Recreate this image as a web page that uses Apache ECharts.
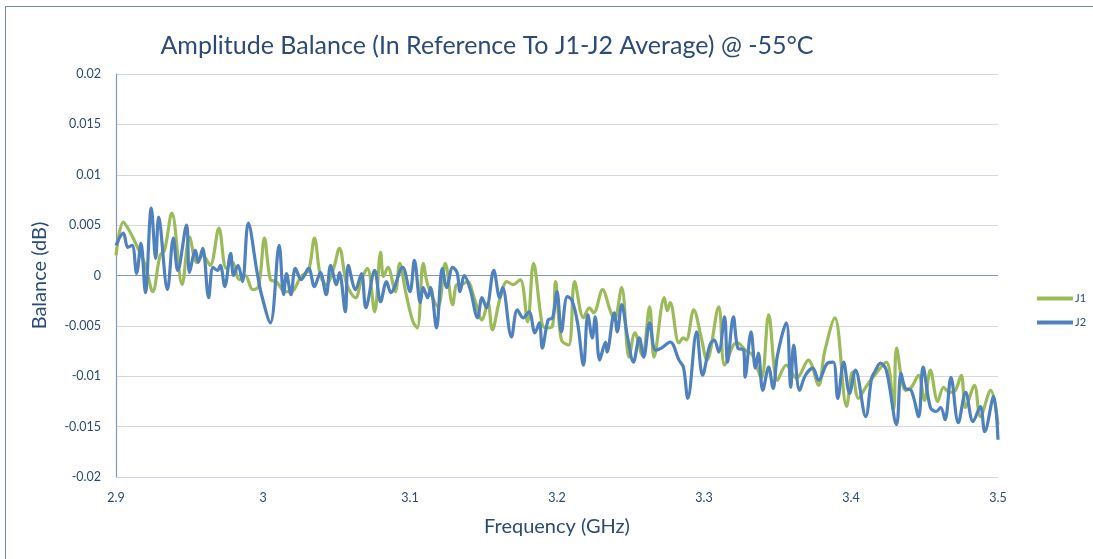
<!DOCTYPE html>
<html>
<head>
<meta charset="utf-8">
<script src="https://cdn.jsdelivr.net/npm/echarts@6/dist/echarts.min.js"></script>
<style>
  html, body { margin: 0; padding: 0; background: #fff; }
  #frame { position: absolute; left: 5px; top: 6px; width: 1200px; height: 700px;
    border: 1.5px solid #6f87ab; box-sizing: border-box; }
  #chart { position: absolute; left: 0; top: 0; width: 1093px; height: 559px; }
</style>
</head>
<body>
<div id="frame"></div>
<div id="chart"></div>
<script>
// frequency (GHz) / balance (dB)
const freqJ1 = [2.900, 2.905, 2.910, 2.914, 2.920, 2.925, 2.930, 2.933, 2.938, 2.945, 2.950, 2.955, 2.959, 2.964, 2.970, 2.975, 2.979, 2.984, 2.988, 2.993, 2.997,
  3.001, 3.005, 3.009, 3.015, 3.019, 3.026, 3.031, 3.035, 3.039, 3.043, 3.048, 3.052, 3.057, 3.063, 3.067, 3.071, 3.076, 3.080, 3.082, 3.085, 3.090, 3.093, 3.097,
  3.102, 3.105, 3.109, 3.112, 3.119, 3.124, 3.129, 3.132, 3.135, 3.139, 3.144, 3.149, 3.153, 3.156, 3.161, 3.166, 3.170, 3.175, 3.180, 3.184, 3.190, 3.193, 3.197, 3.199,
  3.203, 3.208, 3.212, 3.218, 3.222, 3.225, 3.231, 3.236, 3.239, 3.244, 3.249, 3.253, 3.258, 3.263, 3.266, 3.273, 3.275, 3.277, 3.283, 3.286, 3.288, 3.293, 3.298,
  3.302, 3.310, 3.314, 3.320, 3.323, 3.328, 3.333, 3.339, 3.344, 3.350, 3.356, 3.363, 3.371, 3.378, 3.382, 3.389, 3.397,
  3.401, 3.405, 3.410, 3.416, 3.424, 3.429, 3.431, 3.437, 3.441, 3.446, 3.450, 3.454, 3.459, 3.463, 3.467, 3.471, 3.475, 3.478, 3.484, 3.488, 3.495, 3.500];
const valJ1 = [0.0020, 0.0053, 0.0042, 0.0030, 0.0010, -0.0016, 0.0020, 0.0025, 0.0062, -0.0009, 0.0038, 0.0013, 0.0020, 0.0010, 0.0047, 0.0007, 0.0013, -0.0004, 0.0000, -0.0014, -0.0011,
  0.0037, -0.0004, -0.0006, -0.0016, -0.0016, -0.0001, 0.0005, 0.0037, 0.0000, -0.0009, 0.0007, 0.0027, -0.0009, -0.0022, -0.0004, 0.0007, -0.0036, 0.0023, -0.0001, 0.0008, -0.0016, 0.0012, -0.0016,
  -0.0046, -0.0052, 0.0012, -0.0009, -0.0031, 0.0012, -0.0029, -0.0009, -0.0009, -0.0006, -0.0024, -0.0044, -0.0027, -0.0054, -0.0024, -0.0006, -0.0009, -0.0004, -0.0046, 0.0012, -0.0049, -0.0052, -0.0050, -0.0006,
  -0.0064, -0.0069, -0.0006, -0.0042, -0.0032, -0.0037, -0.0014, -0.0034, -0.0044, -0.0012, -0.0081, -0.0057, -0.0079, -0.0031, -0.0081, -0.0022, -0.0035, -0.0027, -0.0067, -0.0062, -0.0064, -0.0034, -0.0061,
  -0.0084, -0.0031, -0.0089, -0.0069, -0.0067, -0.0074, -0.0079, -0.0102, -0.0039, -0.0104, -0.0089, -0.0102, -0.0084, -0.0109, -0.0076, -0.0042, -0.0130,
  -0.0096, -0.0122, -0.0111, -0.0099, -0.0086, -0.0133, -0.0072, -0.0114, -0.0111, -0.0099, -0.0124, -0.0094, -0.0125, -0.0111, -0.0116, -0.0114, -0.0099, -0.0131, -0.0109, -0.0140, -0.0114, -0.0148];

const freqJ2 = [2.900, 2.905, 2.908, 2.911, 2.914, 2.917, 2.920, 2.924, 2.927, 2.929, 2.935, 2.939, 2.942, 2.948, 2.950, 2.954, 2.956, 2.959, 2.963, 2.966, 2.969, 2.971, 2.974, 2.978, 2.980, 2.983, 2.986, 2.990, 2.996, 2.999,
  3.005, 3.011, 3.014, 3.016, 3.019, 3.022, 3.026, 3.031, 3.035, 3.039, 3.043, 3.046, 3.050, 3.052, 3.056, 3.058, 3.063, 3.067, 3.070, 3.076, 3.080, 3.084, 3.087, 3.095,
  3.100, 3.103, 3.107, 3.109, 3.112, 3.114, 3.118, 3.122, 3.125, 3.129, 3.132, 3.134, 3.137, 3.141, 3.146, 3.149, 3.152, 3.157, 3.161, 3.163, 3.169, 3.173, 3.177, 3.181, 3.185, 3.188, 3.190, 3.194, 3.197,
  3.200, 3.203, 3.207, 3.210, 3.214, 3.218, 3.221, 3.224, 3.226, 3.229, 3.233, 3.234, 3.239, 3.241, 3.244, 3.248, 3.252, 3.256, 3.259, 3.263, 3.267, 3.271, 3.277, 3.283, 3.286, 3.289, 3.295, 3.299,
  3.304, 3.307, 3.310, 3.314, 3.316, 3.320, 3.323, 3.327, 3.328, 3.332, 3.335, 3.337, 3.340, 3.344, 3.347, 3.350, 3.356, 3.359, 3.361, 3.365, 3.369, 3.374, 3.378, 3.384, 3.388, 3.391, 3.395, 3.399,
  3.403, 3.410, 3.414, 3.416, 3.420, 3.424, 3.431, 3.434, 3.437, 3.441, 3.446, 3.449, 3.454, 3.458, 3.461, 3.464, 3.468, 3.473, 3.478, 3.483, 3.488, 3.491, 3.497, 3.500];
const valJ2 = [0.0030, 0.0042, 0.0028, 0.0030, 0.0002, 0.0032, -0.0017, 0.0067, 0.0017, 0.0058, -0.0014, 0.0037, 0.0005, 0.0050, 0.0003, 0.0025, 0.0013, 0.0027, -0.0022, 0.0008, 0.0005, 0.0010, -0.0011, 0.0022, 0.0000, 0.0010, -0.0006, 0.0052, 0.0003, -0.0019,
  -0.0047, 0.0030, -0.0019, 0.0002, -0.0019, 0.0007, -0.0004, 0.0007, -0.0011, 0.0003, -0.0019, 0.0010, -0.0009, 0.0003, -0.0036, 0.0010, -0.0014, 0.0002, -0.0032, 0.0005, -0.0026, -0.0006, -0.0017, 0.0008,
  -0.0016, 0.0015, -0.0027, -0.0012, -0.0022, -0.0012, -0.0052, 0.0007, -0.0012, 0.0008, 0.0003, -0.0016, 0.0000, -0.0014, -0.0042, -0.0022, -0.0032, 0.0005, -0.0022, -0.0012, -0.0061, -0.0034, -0.0042, -0.0036, -0.0057, -0.0047, -0.0072, -0.0044, -0.0042,
  -0.0016, -0.0056, -0.0021, -0.0024, -0.0047, -0.0089, -0.0039, -0.0062, -0.0041, -0.0084, -0.0066, -0.0076, -0.0037, -0.0056, -0.0029, -0.0061, -0.0086, -0.0062, -0.0081, -0.0047, -0.0074, -0.0072, -0.0066, -0.0084, -0.0091, -0.0122, -0.0056, -0.0099,
  -0.0069, -0.0064, -0.0076, -0.0041, -0.0086, -0.0041, -0.0072, -0.0074, -0.0101, -0.0056, -0.0092, -0.0077, -0.0114, -0.0091, -0.0112, -0.0079, -0.0047, -0.0111, -0.0069, -0.0114, -0.0099, -0.0092, -0.0104, -0.0087, -0.0086, -0.0122, -0.0086, -0.0117,
  -0.0094, -0.0140, -0.0102, -0.0096, -0.0087, -0.0094, -0.0148, -0.0097, -0.0112, -0.0114, -0.0140, -0.0091, -0.0131, -0.0135, -0.0131, -0.0143, -0.0101, -0.0146, -0.0116, -0.0145, -0.0130, -0.0155, -0.0120, -0.0163];

const xTicks = [2.9, 3.0, 3.1, 3.2, 3.3, 3.4, 3.5]
const yTicks = [-0.02, -0.015, -0.01, -0.005, 0, 0.005, 0.01, 0.015, 0.02]

const txt = '#2b4a78'
const font = 'Lato, "Open Sans", sans-serif'
const pairs = (xs, ys) => xs.map((x, i) => [x, ys[i]])

const chart = echarts.init(document.getElementById('chart'))
chart.setOption({
  animation: false,
  title: {
    text: 'Amplitude Balance (In Reference To J1-J2 Average) @ -55°C',
    left: 482, top: 28, textAlign: 'center',
    textStyle: { color: txt, fontSize: 25, fontWeight: 'normal', fontFamily: font }
  },
  legend: {
    orient: 'vertical', left: 1032, top: 288, itemGap: 13,
    itemWidth: 36, itemHeight: 14,
    icon: 'path://M0,5 L36,5 L36,9 L0,9 Z',
    textStyle: { color: txt, fontSize: 11, fontFamily: font, padding: [0, 0, 0, -3] },
    data: ['J1', 'J2']
  },
  grid: { left: 116, right: 95, top: 74, bottom: 82, containLabel: false },
  xAxis: {
    type: 'value', min: xTicks[0], max: xTicks[xTicks.length - 1], interval: 0.1,
    name: 'Frequency (GHz)', nameLocation: 'middle', nameGap: 40,
    nameTextStyle: { color: txt, fontSize: 20, fontFamily: font },
    axisLine: { show: false }, axisTick: { show: false },
    axisLabel: { color: txt, fontSize: 12.5, fontFamily: font, margin: 14,
      formatter: v => String(+v.toFixed(1)) },
    splitLine: { show: false }
  },
  yAxis: {
    type: 'value', min: yTicks[0], max: yTicks[yTicks.length - 1], interval: 0.005,
    name: 'Balance (dB)', nameLocation: 'middle', nameGap: 66,
    nameTextStyle: { color: txt, fontSize: 20, fontFamily: font },
    axisLine: { show: true, lineStyle: { color: '#8497b5', width: 1.2 } },
    axisTick: { show: false },
    axisLabel: { color: txt, fontSize: 12.5, fontFamily: font, margin: 15,
      formatter: v => String(+v.toFixed(3)) },
    splitLine: { show: true, lineStyle: { color: ['#d3d9e3', '#d3d9e3', '#d3d9e3', '#d3d9e3', '#8497b5', '#d3d9e3', '#d3d9e3', '#d3d9e3', '#d3d9e3'], width: 1.2 } }
  },
  series: [
    { name: 'J1', type: 'line', data: pairs(freqJ1, valJ1), smooth: 0.35, showSymbol: false,
      lineStyle: { color: '#9bbb59', width: 3.2 }, itemStyle: { color: '#9bbb59' } },
    { name: 'J2', type: 'line', data: pairs(freqJ2, valJ2), smooth: 0.35, showSymbol: false,
      lineStyle: { color: '#4f81bd', width: 3.2 }, itemStyle: { color: '#4f81bd' } }
  ]
})
</script>
</body>
</html>
